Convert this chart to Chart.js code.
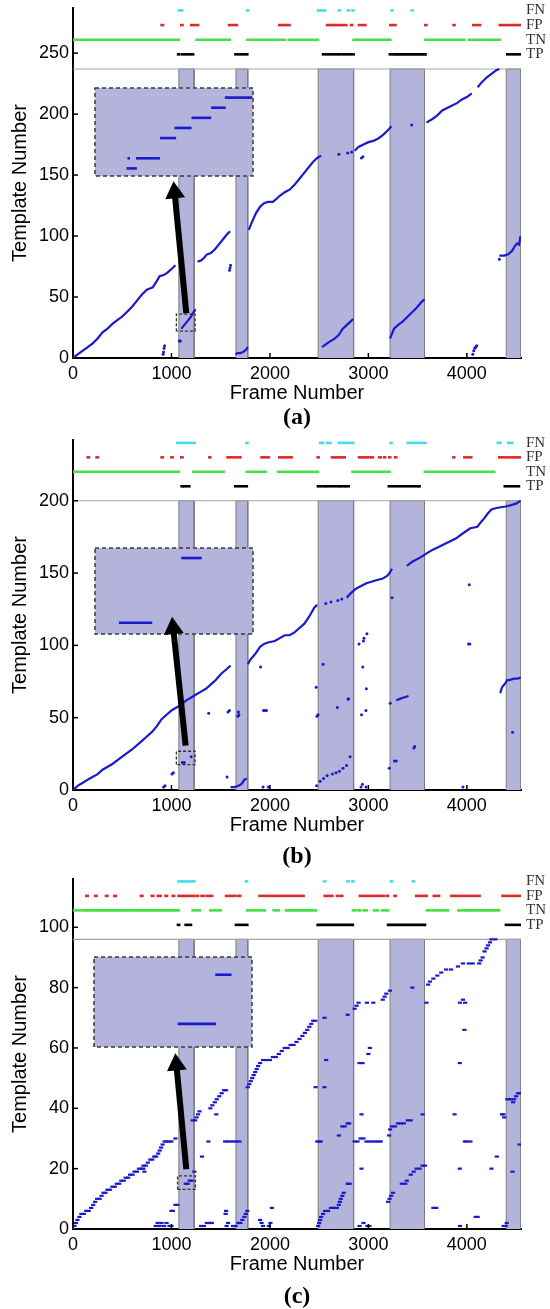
<!DOCTYPE html>
<html>
<head>
<meta charset="utf-8">
<script src="https://cdn.jsdelivr.net/npm/chart.js@4.4.1/dist/chart.umd.min.js"></script>
<style>
  html, body { margin:0; padding:0; background:#fff; }
  body { position:relative; width:550px; height:1309px; overflow:hidden; }
  .layer { position:absolute; }
  .plabel { position:absolute; left:73px; width:448px; text-align:center; font-family:"Liberation Serif","Times New Roman",serif; font-weight:bold; font-size:24px; line-height:24px; color:#000; }
</style>
</head>
<body>
<canvas id="mainA" class="layer" width="550" height="430" style="left:0;top:0"></canvas>
<canvas id="insetA" class="layer" width="162" height="92" style="left:93px;top:86px"></canvas>
<canvas id="arrowA" class="layer" width="550" height="430" style="left:0;top:0"></canvas>
<div class="plabel" style="top:404px">(a)</div>

<canvas id="mainB" class="layer" width="550" height="430" style="left:0;top:432px"></canvas>
<canvas id="insetB" class="layer" width="162" height="90" style="left:93px;top:546px"></canvas>
<canvas id="arrowB" class="layer" width="550" height="430" style="left:0;top:432px"></canvas>
<div class="plabel" style="top:843px">(b)</div>

<canvas id="mainC" class="layer" width="550" height="430" style="left:0;top:871px"></canvas>
<canvas id="insetC" class="layer" width="162" height="94" style="left:92px;top:955px"></canvas>
<canvas id="arrowC" class="layer" width="550" height="430" style="left:0;top:871px"></canvas>
<div class="plabel" style="top:1283px">(c)</div>

<script>
// ---------------- shared data ----------------
const frameMax = 4550;
const xTickValues = [0, 1000, 2000, 3000, 4000];
const rowNames = ['TP', 'TN', 'FP', 'FN'];
const bandIntervals = [[1075, 1230], [1655, 1775], [2490, 2850], [3220, 3570], [4400, 4550]];

// ---------------- panel (a) ----------------
const aYTicks = [0, 50, 100, 150, 200, 250];
const aYMax = 287;
const aDataTop = 237;
const aRowLevels = [249, 261, 273, 285];
const aTP = [[1068,1080],[1110,1220],[1650,1770],[2540,2600],[2620,2690],[2705,2850],[3218,3232],[3255,3580],[4410,4550]];
const aTN = [[0,1075],[1255,1593],[1772,2150],[2190,2488],[2850,3222],[3580,3975],[4020,4335]];
const aFP = [[900,915],[1100,1112],[1200,1270],[1585,1665],[2095,2115],[2130,2200],[2580,2640],[2650,2685],[2705,2775],[2825,2835],[2905,2970],[3222,3275],[3578,3590],[3865,3875],[4065,4135],[4335,4400],[4420,4480],[4500,4550]];
const aFN = [[1075,1110],[1768,1778],[2488,2560],[2700,2710],[2790,2800],[2835,2848],[3235,3245],[3440,3450]];
const aTrack = [
  [[0,0],[30,2],[100,6],[150,9],[200,12],[250,16],[300,21],[350,24],[400,28],[450,31],[500,34],[550,38],[600,42],[650,47],[700,52],[750,56],[780,57],[810,58],[850,63],[880,67],[920,68],[960,70],[1000,73],[1040,76]],
  [[1100,24],[1130,27],[1160,30],[1190,33],[1220,37],[1245,40]],
  [[1265,79],[1300,80],[1330,82],[1360,85],[1400,86],[1440,89],[1480,93],[1520,97],[1560,101],[1595,104]],
  [[1650,3],[1670,4],[1700,4],[1730,5],[1760,7],[1775,9]],
  [[1785,105],[1820,112],[1860,119],[1900,124],[1940,127],[1980,128],[2030,128],[2060,130],[2100,133],[2150,136],[2200,138],[2250,142],[2300,147],[2350,152],[2400,157],[2440,161],[2480,164],[2520,166]],
  [[2860,170],[2900,173],[2950,175],[3000,177],[3050,178],[3100,180],[3150,183],[3200,187],[3235,190]],
  [[3590,193],[3650,196],[3700,199],[3750,203],[3800,205],[3850,207],[3900,209],[3950,212],[4000,214],[4050,217]],
  [[4110,222],[4150,226],[4200,230],[4250,233],[4300,236],[4330,237]],
  [[2530,9],[2580,12],[2620,14],[2660,16],[2700,19],[2740,24],[2780,27],[2820,30],[2845,32]],
  [[3220,16],[3240,20],[3260,24],[3300,27],[3350,30],[3400,34],[3450,38],[3500,42],[3540,46],[3570,48]],
  [[4330,84],[4380,84],[4420,85],[4460,88],[4490,92],[4510,94],[4530,93],[4545,100]]
];
const aDots = [[915,3],[920,5],[925,8],[930,10],[1080,14],[1090,14],[1590,72],[1595,74],[1600,76],[2700,167],[2790,168],[2830,169],[2930,164],[2945,165],[3440,191],[4060,3],[4070,6],[4080,8],[4090,9],[4100,10],[4330,81]];
const aZoomBox = [1050, 1240, 22, 36];
const aInsetX = [1060, 1245];
const aInsetY = [23.25, 31.95];
const aInset = [[[1097,24],[1109,24]],[[1098,25],[1101,25]],[[1108,25],[1136,25]],[[1136,27],[1155,27]],[[1153,28],[1173,28]],[[1173,29],[1196,29]],[[1196,30],[1213,30]],[[1212,31],[1244,31]]];
const aArrow = [[1151, 37], [1032, 137]];
const aArrowAngle = -5.5;

// ---------------- panel (b) ----------------
const bYTicks = [0, 50, 100, 150, 200];
const bYMax = 242;
const bDataTop = 200;
const bRowLevels = [210, 220, 230, 240];
const bTP = [[1103,1115],[1130,1181],[1647,1765],[2488,2560],[2575,2700],[2715,2760],[2775,2800],[3208,3494],[3510,3520],[4385,4529]];
const bTN = [[0,1074],[1224,1530],[1765,1955],[2083,2260],[2275,2488],[2839,3215],[3573,4278]];
const bFP = [[150,162],[240,252],[900,912],[1000,1012],[1100,1112],[1385,1395],[1570,1700],[1915,1990],[2095,2110],[2130,2220],[2485,2495],[2630,2650],[2670,2700],[2715,2760],[2905,2960],[2975,3045],[3110,3125],[3160,3170],[3212,3222],[3272,3282],[3862,3872],[3975,4045],[4330,4460],[4480,4492],[4510,4520],[4535,4547]];
const bFN = [[1060,1235],[1762,1772],[2510,2540],[2580,2615],[2700,2720],[2745,2845],[3225,3235],[3400,3580],[4315,4340],[4420,4460]];
const bTrack = [
  [[0,0],[50,3],[100,5],[170,8],[250,11],[300,14],[400,18],[500,23],[600,28],[700,34],[750,37],[800,40],[850,44],[900,49],[950,52],[1000,55],[1050,57],[1100,59],[1150,62],[1200,64],[1250,66],[1300,68],[1350,70],[1400,73],[1450,76],[1500,80],[1550,83],[1600,86]],
  [[1775,87],[1800,90],[1850,94],[1900,99],[1940,101],[1980,102],[2050,103],[2100,105],[2150,107],[2200,107],[2250,109],[2300,112],[2350,115],[2400,120],[2450,126],[2480,128]],
  [[2780,133],[2820,136],[2870,139],[2925,141],[2980,143],[3030,144],[3080,145],[3140,146],[3190,148],[3215,150],[3240,153]],
  [[3390,155],[3450,158],[3533,161],[3600,164],[3650,166],[3713,168],[3800,171],[3892,174],[3950,177],[4035,181],[4107,182],[4140,185],[4178,188],[4210,191],[4250,194],[4300,195],[4393,196],[4450,197],[4500,198],[4547,200]],
  [[1600,2],[1640,2],[1680,3],[1710,4],[1740,7],[1765,8]],
  [[3283,62],[3320,63],[3360,64],[3408,65]],
  [[4339,67],[4357,71],[4393,74],[4410,76],[4430,76],[4480,77],[4520,77],[4547,78]]
];
const bDots = [[920,2],[935,3],[1005,11],[1020,12],[1378,53],[1565,9],[1575,54],[1588,55],[1675,51],[1680,54],[1685,52],[1905,85],[1935,55],[1950,55],[1965,55],[1930,2],[1985,2],[2470,71],[2478,51],[2488,52],[2540,87],[2567,129],[2620,130],[2690,131],[2730,132],[2685,57],[2793,63],[2800,63],[2905,101],[2950,103],[2955,105],[2985,108],[2943,85],[2979,70],[2930,52],[2975,55],[2925,2],[2940,4],[2975,2],[3212,15],[3265,20],[3283,20],[3222,60],[3462,29],[3470,30],[3240,133],[4025,142],[3960,2],[4017,101],[4030,101],[4464,40],[2474,3],[2510,6],[2545,8],[2581,10],[2635,11],[2671,12],[2706,13],[2742,15],[2778,17],[2814,23],[1110,19],[1130,19],[1200,23]];
const bZoomBox = [1050, 1240, 17.6, 26.8];
const bInsetX = [1060, 1245];
const bInsetY = [18.31, 23.62];
const bInset = [[[1088,19],[1127,19]],[[1161,23],[1185,23]]];
const bArrow = [[1144, 31], [1018, 113]];
const bArrowAngle = -5.9;

// ---------------- panel (c) ----------------
const cYTicks = [0, 20, 40, 60, 80, 100];
const cYMax = 116;
const cDataTop = 96;
const cRowLevels = [100.8, 105.6, 110.4, 115.2];
const cTP = [[1066,1078],[1144,1198],[1655,1770],[2485,2842],[3200,3575],[4397,4540]];
const cTN = [[0,130],[145,700],[715,1072],[1215,1287],[1394,1501],[1770,1948],[2038,2091],[2163,2467],[2842,2870],[2900,2915],[2950,2985],[3057,3100],[3140,3200],[3593,3660],[3680,3740],[3760,3807],[3914,3986],[4004,4326]];
const cFP = [[135,150],[225,240],[335,350],[420,435],[690,705],[800,815],[860,890],[940,955],[1012,1027],[1072,1110],[1130,1145],[1160,1230],[1255,1270],[1305,1330],[1360,1412],[1555,1650],[1680,1698],[1895,2060],[2080,2200],[2220,2342],[2556,2600],[2620,2635],[2680,2695],[2720,2735],[2914,3120],[3140,3155],[3185,3200],[3265,3278],[3486,3500],[3520,3560],[3580,3593],[3664,3718],[3843,4129],[4362,4375],[4400,4500],[4515,4550]];
const cFN = [[1072,1120],[1130,1180],[1195,1233],[1756,1768],[2550,2562],[2789,2800],[2838,2849],[3229,3241],[3451,3463]];
const cSteps = [
  [0,0],[15,1],[30,2],[45,3],[65,4],[85,5],[110,5],[135,6],[160,6],[185,7],[205,8],[225,9],[245,10],[270,10],[290,11],[310,12],[330,12],[350,13],[375,13],[400,14],[425,14],[445,15],[470,15],[490,16],[515,16],[535,17],[560,17],[580,18],[605,18],[625,19],[650,19],[670,20],[695,20],[715,21],[740,21],[760,22],[785,23],[805,23],[825,24],[845,24],[865,25],[880,26],[895,27],[910,28],[930,29],[950,29],[975,29],[1000,29],[1040,30],
  [715,20],[725,19],
  [840,1],[860,2],[880,1],[900,2],[925,1],[950,2],[980,1],[1000,1],[1000,6],[1015,6],[1040,8],[1060,8],
  [1110,35],[1145,15],[1165,15],[1185,16],[1205,16],[1232,19],
  [1215,36],[1240,36],[1255,37],[1270,38],[1285,39],
  [1300,1],[1330,1],[1360,2],[1390,2],[1410,2],[1310,24],[1375,29],
  [1395,40],[1415,41],[1440,42],[1460,43],[1485,44],[1510,45],[1535,46],[1555,46],[1455,38],
  [1545,29],[1570,29],[1600,29],[1630,29],[1660,29],[1690,29],
  [1550,5],[1555,6],[1560,1],[1575,2],
  [1625,1],[1650,1],[1680,2],[1700,2],[1720,3],[1740,4],[1755,5],[1770,6],
  [1775,47],[1790,48],[1805,49],[1820,50],[1835,51],[1850,52],[1865,53],[1880,54],[1900,55],[1930,56],[1960,56],[2000,56],[2030,57],[2060,57],[2090,58],[2120,59],[2150,60],[2180,60],[2210,61],[2240,61],[2270,62],[2300,63],[2330,64],[2355,65],[2380,66],[2400,67],[2420,68],[2440,69],[2460,69],
  [1900,3],[1915,2],[1930,1],[1990,1],[2005,2],[2020,7],
  [2480,29],[2500,29],[2515,29],[2464,47],[2554,47],[2554,70],[2571,56],
  [2490,1],[2500,2],[2510,3],[2520,4],[2540,5],[2560,6],[2590,6],[2620,7],[2650,7],[2680,7],[2700,8],[2710,9],[2720,10],[2735,11],[2750,12],[2790,15],[2810,15],
  [2700,31],[2735,34],[2760,34],[2790,35],[2805,35],
  [2790,71],[2860,73],[2880,74],[2900,75],[2985,75],[3050,75],[3146,76],[3165,77],[3182,78],[3218,79],
  [2910,55],[2940,55],[3000,58],[3015,60],[2930,38],[2930,20],
  [2860,29],[2890,29],[2920,30],[2950,30],[2980,29],[3010,29],[3040,29],[3070,29],[3100,29],[3125,29],
  [2910,1],[2950,2],[2990,1],[3010,1],
  [3446,80],
  [3200,9],[3215,10],[3230,11],[3250,12],[3340,15],[3375,15],[3390,16],[3430,18],[3460,19],[3490,20],[3520,20],[3550,21],[3575,21],
  [3210,31],[3220,33],[3240,34],[3270,34],[3300,35],[3330,35],[3360,35],[3400,36],[3430,36],[3550,38],
  [3590,75],[3607,81],[3625,82],[3660,83],[3700,84],[3740,85],[3790,86],[3840,86],[3910,87],[3960,88],[4020,88],[4060,88],[4125,88],[4140,89],[4160,90],[4180,92],[4200,93],[4215,94],[4235,95],[4250,96],[4290,96],
  [3660,7],[3690,7],
  [3875,38],[3928,20],[3928,55],[3930,1],[3930,75],[3982,75],[3960,76],[3975,66],[3980,29],[4000,29],[4036,29],[4090,4],[4110,4],[4250,20],[4304,24],[4357,38],[4372,38],[4380,37],[4375,1],
  [4411,43],[4430,43],[4450,43],[4470,42],[4480,43],[4500,44],[4520,45],[4540,45],[4464,19],[4536,28],[4395,1],[4405,2]
];
const cZoomBox = [1062, 1244, 13.1, 17.6];
const cInsetX = [1060, 1245];
const cInsetY = [14.53, 16.36];
const cInset = [[[1158,15],[1203,15]],[[1202,16],[1221,16]]];
const cArrow = [[1151, 20], [1050, 55]];
const cArrowAngle = -5.2;

// ---------------- styles ----------------
const BLUE = '#1a1acd';
const LAV = '#b3b3db';
const ROWCOLORS = { TP: '#000000', TN: '#44e044', FP: '#e02a2a', FN: '#44dcec' };
Chart.defaults.font.family = '"Liberation Sans", Arial, sans-serif';
Chart.defaults.color = '#000';

function xy(p) { return { x: p[0], y: p[1] }; }

const inwardTicks = {
  id: 'inwardTicks',
  afterDatasetsDraw(chart) {
    const { ctx, chartArea, scales } = chart;
    const x = scales.x, y = scales.y;
    ctx.save();
    ctx.strokeStyle = '#000';
    ctx.lineWidth = 1.5;
    x.ticks.forEach(t => {
      if (t.value === 0) return;
      const px = x.getPixelForValue(t.value);
      ctx.beginPath(); ctx.moveTo(px, chartArea.bottom); ctx.lineTo(px, chartArea.bottom - 5); ctx.stroke();
    });
    y.ticks.forEach(t => {
      if (t.value === 0) return;
      const py = y.getPixelForValue(t.value);
      ctx.beginPath(); ctx.moveTo(chartArea.left, py); ctx.lineTo(chartArea.left + 5, py); ctx.stroke();
    });
    ctx.restore();
  }
};

const insetFrame = {
  id: 'insetFrame',
  beforeDatasetsDraw(chart) {
    const { ctx, chartArea: a } = chart;
    ctx.save(); ctx.fillStyle = LAV; ctx.fillRect(a.left, a.top, a.width, a.height); ctx.restore();
  },
  afterDatasetsDraw(chart) {
    const { ctx, chartArea: a } = chart;
    ctx.save(); ctx.strokeStyle = '#3a3a3a'; ctx.lineWidth = 1.5; ctx.setLineDash([4, 3]);
    ctx.strokeRect(a.left, a.top, a.width, a.height); ctx.restore();
  }
};

function makeMain(id, P) {
  const ds = [];
  bandIntervals.forEach(([s, e]) => ds.push({
    data: [[s, 0], [s, P.dataTop], [e, P.dataTop], [e, 0]].map(xy),
    borderColor: '#7c7c7c', borderWidth: 1, backgroundColor: LAV, fill: 'origin', order: 30
  }));
  ds.push({ data: [[0, P.dataTop], [frameMax, P.dataTop]].map(xy), borderColor: '#a6a6a6', borderWidth: 1.2, fill: false, order: 25 });
  rowNames.forEach((name, i) => {
    const level = P.rowLevels[i];
    P.rows[name].forEach(([s, e]) => ds.push({
      data: [[s, level], [e, level]].map(xy), borderColor: ROWCOLORS[name], borderWidth: 2.6, borderCapStyle: 'square', fill: false, order: 10
    }));
  });
  (P.tracks || []).forEach(piece => ds.push({ data: piece.map(xy), borderColor: BLUE, borderWidth: 2.2, fill: false, order: 1 }));
  if (P.dots) ds.push({ data: P.dots.map(xy), showLine: false, pointRadius: 1.5, pointStyle: 'circle', pointBackgroundColor: BLUE, pointBorderWidth: 0, order: 1 });
  if (P.steps) ds.push({ data: P.steps.map(xy), showLine: false, pointRadius: 2.1, pointStyle: 'line', pointBorderColor: BLUE, pointBorderWidth: 2.2, order: 1 });
  const zb = P.zoomBox;
  ds.push({ data: [[zb[0], zb[2]], [zb[0], zb[3]], [zb[1], zb[3]], [zb[1], zb[2]], [zb[0], zb[2]]].map(xy), borderColor: '#333', borderWidth: 1.3, borderDash: [3, 2], fill: false, order: 0 });

  return new Chart(document.getElementById(id), {
    type: 'line',
    data: { datasets: ds },
    options: {
      responsive: false, animation: false, devicePixelRatio: 1, events: [],
      layout: { padding: { left: 0, right: 0, top: 8, bottom: 0 } },
      plugins: { legend: { display: false }, tooltip: { enabled: false } },
      elements: { point: { radius: 0 }, line: { tension: 0 } },
      scales: {
        x: {
          type: 'linear', min: 0, max: frameMax,
          afterBuildTicks: s => { s.ticks = xTickValues.map(v => ({ value: v })); },
          afterFit: s => { s.height = 72; s.paddingLeft = 0; s.paddingRight = 0; },
          grid: { display: false, drawTicks: false }, border: { color: '#000', width: 2 },
          ticks: { font: { size: 18 }, color: '#000', padding: 5, maxRotation: 0, autoSkip: false, callback: v => String(v) },
          title: { display: true, text: 'Frame Number', font: { size: 20 }, color: '#000', padding: { top: 0, bottom: 25 } }
        },
        y: {
          type: 'linear', position: 'left', min: 0, max: P.yMax,
          afterBuildTicks: s => { s.ticks = P.yTicks.map(v => ({ value: v })); },
          afterFit: s => { s.width = 73; s.paddingTop = 0; s.paddingBottom = 0; },
          grid: { display: false, drawTicks: false }, border: { color: '#000', width: 2 },
          ticks: { font: { size: 18 }, color: '#000', padding: 4, autoSkip: false, callback: v => String(v) },
          title: { display: true, text: 'Template Number', font: { size: 20 }, color: '#000', padding: { top: 8, bottom: 0 } }
        },
        y2: {
          type: 'linear', position: 'right', min: 0, max: P.yMax,
          afterBuildTicks: s => { s.ticks = P.rowLevels.map(v => ({ value: v })); },
          afterFit: s => { s.width = 29; s.paddingTop = 0; s.paddingBottom = 0; },
          grid: { display: false, drawTicks: false }, border: { display: false },
          ticks: { font: { size: 15, family: '"Liberation Serif", "Times New Roman", serif' }, color: '#333', padding: 5, autoSkip: false,
                   callback: (v, i) => rowNames[i] }
        }
      }
    },
    plugins: [inwardTicks]
  });
}

function makeInset(id, segs, xr, yr) {
  return new Chart(document.getElementById(id), {
    type: 'line',
    data: { datasets: segs.map(seg => ({ data: seg.map(xy), borderColor: BLUE, borderWidth: 2.6, borderCapStyle: 'butt', fill: false })) },
    options: {
      responsive: false, animation: false, devicePixelRatio: 1, events: [],
      layout: { padding: 2 },
      plugins: { legend: { display: false }, tooltip: { enabled: false } },
      elements: { point: { radius: 0 }, line: { tension: 0 } },
      scales: { x: { type: 'linear', display: false, min: xr[0], max: xr[1] }, y: { type: 'linear', display: false, min: yr[0], max: yr[1] } }
    },
    plugins: [insetFrame]
  });
}

function makeArrow(id, arrow, angle, yMax) {
  return new Chart(document.getElementById(id), {
    type: 'line',
    data: { datasets: [
      { data: [arrow[1]].map(xy), showLine: false, pointStyle: 'triangle', pointRadius: 11.5, pointRotation: angle, pointBackgroundColor: '#000', pointBorderWidth: 0 },
      { data: arrow.map(xy), borderColor: '#000', borderWidth: 6, borderCapStyle: 'butt', fill: false, pointRadius: 0 }
    ] },
    options: {
      responsive: false, animation: false, devicePixelRatio: 1, events: [],
      layout: { padding: { left: 73, right: 29, top: 8, bottom: 72 } },
      plugins: { legend: { display: false }, tooltip: { enabled: false } },
      scales: { x: { type: 'linear', display: false, min: 0, max: frameMax }, y: { type: 'linear', display: false, min: 0, max: yMax } }
    }
  });
}

makeMain('mainA', { yMax: aYMax, yTicks: aYTicks, dataTop: aDataTop, rowLevels: aRowLevels,
  rows: { TP: aTP, TN: aTN, FP: aFP, FN: aFN }, tracks: aTrack, dots: aDots, zoomBox: aZoomBox });
makeInset('insetA', aInset, aInsetX, aInsetY);
makeArrow('arrowA', aArrow, aArrowAngle, aYMax);

makeMain('mainB', { yMax: bYMax, yTicks: bYTicks, dataTop: bDataTop, rowLevels: bRowLevels,
  rows: { TP: bTP, TN: bTN, FP: bFP, FN: bFN }, tracks: bTrack, dots: bDots, zoomBox: bZoomBox });
makeInset('insetB', bInset, bInsetX, bInsetY);
makeArrow('arrowB', bArrow, bArrowAngle, bYMax);

makeMain('mainC', { yMax: cYMax, yTicks: cYTicks, dataTop: cDataTop, rowLevels: cRowLevels,
  rows: { TP: cTP, TN: cTN, FP: cFP, FN: cFN }, steps: cSteps, zoomBox: cZoomBox });
makeInset('insetC', cInset, cInsetX, cInsetY);
makeArrow('arrowC', cArrow, cArrowAngle, cYMax);
</script>
</body>
</html>
